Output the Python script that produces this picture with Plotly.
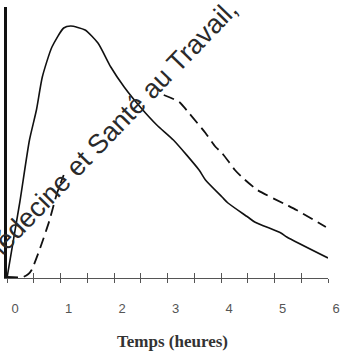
import plotly.graph_objects as go

# Solid curve (time in hours, arbitrary concentration units)
solid_t = [0.0, 0.24, 0.42, 0.55, 0.66, 0.84, 1.06, 1.19, 1.46, 1.70, 1.94, 2.19, 2.49,
           2.80, 3.11, 3.59, 3.71, 4.02, 4.13, 4.50, 4.63, 5.12, 5.23, 6.0]
solid_v = [0, 76, 138, 168, 201, 231, 250, 252, 248, 235, 211, 191, 171,
           153, 138, 108, 98, 81, 75, 61, 56, 45, 41, 20]

# Dashed curve (middle part hidden in the reference -> None)
dash_t = [0.0, 0.30, 0.40, 0.46, 0.62, 0.79, 0.93, 1.06, 1.10, 2.88, 2.93, 3.22, 3.40,
          3.71, 3.90, 4.02, 4.26, 4.39, 4.68, 5.23, 5.41, 5.96]
dash_v = [1, 1, 4, 8, 30, 57, 84, 103, None, None, 183, 176, 165,
          145, 131, 125, 108, 101, 88, 73, 68, 51]

tick_vals = [i * 0.5 for i in range(13)]
tick_text = ["0", "", "1", "", "2", "", "3", "", "4", "", "5", "", "6"]

x_title = "Temps (heures)"
watermark = "Médecine et Santé au Travail,"

fig = go.Figure()
fig.add_trace(go.Scatter(x=solid_t, y=solid_v, mode="lines",
                         line=dict(color="#111111", width=1.6, shape="spline", smoothing=0.6),
                         showlegend=False))
fig.add_trace(go.Scatter(x=dash_t, y=dash_v, mode="lines", connectgaps=False,
                         line=dict(color="#111111", width=1.8, dash="11px,6px",
                                   shape="spline", smoothing=0.6),
                         showlegend=False))
fig.add_trace(go.Scatter(x=[0, 6], y=[None, None], xaxis="x2", showlegend=False))

fig.update_layout(
    width=347, height=355,
    margin=dict(l=7, r=12, t=7, b=77),
    paper_bgcolor="white", plot_bgcolor="white",
    xaxis=dict(range=[0, 6], tickvals=tick_vals, ticktext=tick_text,
               ticks="outside", ticklen=4, tickwidth=1, tickcolor="#555555",
               showline=True, linecolor="#555555", linewidth=1,
               showgrid=False, zeroline=False,
               ticklabelshift=8, ticklabelstandoff=14,
               tickfont=dict(family="Liberation Sans", size=13, color="#555555")),
    xaxis2=dict(range=[0, 6], overlaying="x", anchor="y", side="bottom",
                tickvals=tick_vals, ticks="inside", ticklen=5, tickwidth=1,
                tickcolor="#555555", showticklabels=False, showgrid=False,
                zeroline=False, showline=False),
    yaxis=dict(range=[0, 271], showline=True, linecolor="#111111", linewidth=2.5,
               showticklabels=False, ticks="", showgrid=False, zeroline=False),
    annotations=[
        dict(text="<b>" + x_title + "</b>", x=3.1, xref="x", y=-0.236, yref="paper",
             xanchor="center", yanchor="middle", showarrow=False,
             font=dict(family="Liberation Serif", size=17, color="#333333")),
        dict(text=watermark, x=1.90, xref="x", y=145, yref="y",
             xanchor="center", yanchor="middle", showarrow=False, textangle=-46,
             font=dict(family="Liberation Sans", size=27, color="#2a2a2a")),
    ],
)

fig.write_html("out.html")
